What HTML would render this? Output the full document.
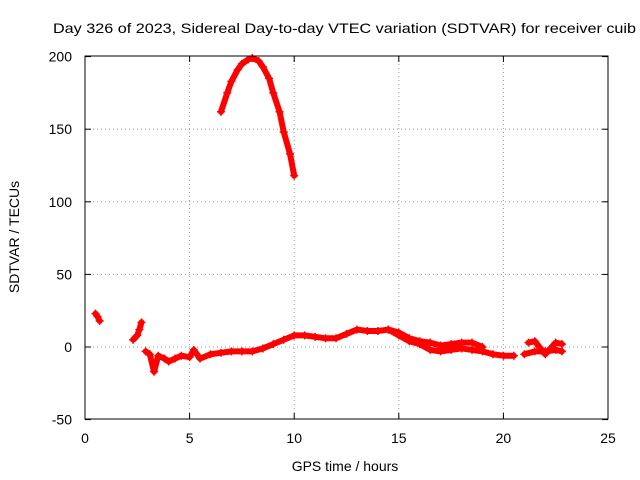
<!DOCTYPE html>
<html><head><meta charset="utf-8"><style>
body{margin:0;background:#fff;}
svg{display:block;font-family:"Liberation Sans",sans-serif;}
</style></head><body>
<svg id="c" width="640" height="480">
<text x="53" y="33" font-size="14" textLength="583" lengthAdjust="spacingAndGlyphs">Day 326 of 2023, Sidereal Day-to-day VTEC variation (SDTVAR) for receiver cuib</text>
<text x="345" y="471" font-size="14" text-anchor="middle">GPS time / hours</text>
<text transform="translate(19,237) rotate(-90)" font-size="14" text-anchor="middle">SDTVAR / TECUs</text>
<g id="grid"></g><g id="marks"></g>
<rect x="85" y="56" width="523" height="363" fill="none" stroke="#000"/>
</svg>
<script>
const xTicks=[0,5,10,15,20,25];
const yTicks=[-50,0,50,100,150,200];
const archX=[6.5,6.8,7.0,7.3,7.5,7.8,8.0,8.3,8.5,8.8,9.0,9.3,9.5,9.8,10.0];
const archY=[162,175,183,191,195,198,199,197,193,185,175,162,148,133,118];
const bandX=[0.5,0.6,0.7,null,2.3,2.5,2.6,2.7,null,2.9,3.1,3.3,3.5,3.8,4.0,4.3,4.6,5.0,5.2,5.5,6,6.5,7,7.5,8,8.5,9,9.5,10,10.5,11,11.5,12,12.5,13,13.5,14,14.5,15,15.5,16,16.5,17,17.5,18,18.5,19,19.5,20,20.5,null,21,21.5,22,22.5,22.8];
const bandY=[23,21,18,null,5,8,12,17,null,-3,-5,-17,-6,-8,-10,-8,-6,-7,-2,-8,-5,-4,-3,-3,-3,-1,2,5,8,8,7,6,6,9,12,11,11,12,8,4,2,-2,-3,-2,-1,-2,-3,-5,-6,-6,null,-5,-3,-3,-2,-3];
const band2X=[14.5,15,15.5,16,16.5,17,17.5,18,18.5,19,null,21.2,21.5,22,22.5,22.8];
const band2Y=[12,10,6,4,3,1,2,3,3,0,null,3,4,-5,3,2];
const X=v=>85+v*523/25, Y=v=>347-v*363/250;
const ns="http://www.w3.org/2000/svg";
const g=document.getElementById('grid'), m=document.getElementById('marks');
function mk(p,t,a){const e=document.createElementNS(ns,t);for(const k in a)e.setAttribute(k,a[k]);p.appendChild(e);return e;}
xTicks.forEach(t=>{
 if(t>0&&t<25){const l=mk(g,'line',{x1:X(t),x2:X(t),y1:56,y2:419,stroke:'#999','stroke-dasharray':'1,3'});
 
 }
 const tx=mk(g,'text',{x:X(t),y:443,'font-size':14,'text-anchor':'middle'});tx.textContent=t;
 
 
 mk(g,'line',{x1:X(t),x2:X(t),y1:419,y2:413,stroke:'#000'});mk(g,'line',{x1:X(t),x2:X(t),y1:56,y2:62,stroke:'#000'});
});
yTicks.forEach(t=>{
 if(t>-50&&t<200){const l=mk(g,'line',{x1:85,x2:608,y1:Y(t),y2:Y(t),stroke:'#999','stroke-dasharray':'1,3'});
 
 }
 const tx=mk(g,'text',{x:72,y:Y(t)+5,'font-size':14,'text-anchor':'end'});tx.textContent=t;
 
 
 mk(g,'line',{x1:85,x2:91,y1:Y(t),y2:Y(t),stroke:'#000'});mk(g,'line',{x1:608,x2:602,y1:Y(t),y2:Y(t),stroke:'#000'});
});
function series(xs,ys,name){
 let d='',pen=false;
 xs.forEach((x,i)=>{if(x===null){pen=false;return;}d+=(pen?'L':'M')+X(x)+','+Y(ys[i]);pen=true;
  const p=mk(m,'path',{d:`M${X(x)-4},${Y(ys[i])}h8M${X(x)},${Y(ys[i])-4}v8`,stroke:'#f00','stroke-width':1.5});
  
  });
 const l=mk(m,'path',{d:d,stroke:'#f00','stroke-width':6,fill:'none','stroke-linejoin':'round','stroke-linecap':'round'});
 
 
}
series(archX,archY,'arch-series');
series(bandX,bandY,'band-series');
series(band2X,band2Y,'band-series-2');
</script>
</body></html>
